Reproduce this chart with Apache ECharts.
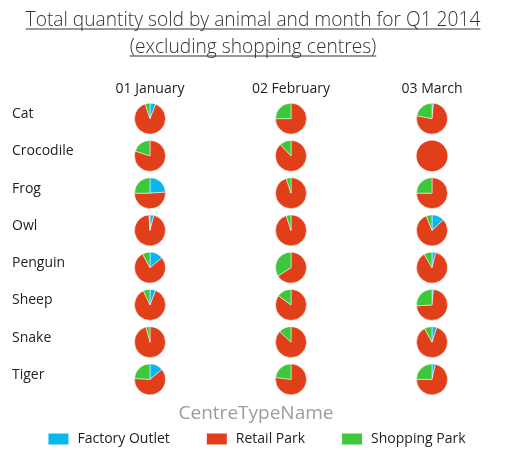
<!DOCTYPE html>
<html><head><meta charset="utf-8">
<script src="https://cdn.jsdelivr.net/npm/echarts@6/dist/echarts.min.js"></script>
<style>html,body{margin:0;padding:0;background:#fff}#c{width:512px;height:462px}</style>
</head><body><div id="c"></div>
<script>
const months = ['01 January', '02 February', '03 March'];
const animals = ['Cat', 'Crocodile', 'Frog', 'Owl', 'Penguin', 'Sheep', 'Snake', 'Tiger'];
const centreTypes = ['Factory Outlet', 'Retail Park', 'Shopping Park'];
const titleLines = ['Total quantity sold by animal and month for Q1 2014', '(excluding shopping centres)'];
const legendTitle = 'CentreTypeName';

// values per month (rows) and animal (columns)
const factoryOutlet = [
  [6, 0, 24, 4, 14, 6, 0, 14],
  [0, 0, 0, 0, 0, 0, 0, 0],
  [1.5, 0, 0, 13, 4, 1.5, 5, 3.5]
];
const retailPark = [
  [89, 80, 51, 95, 78, 87, 96, 62],
  [75, 88, 95, 95, 66, 85, 87, 77],
  [76.5, 100, 75, 81, 87.5, 72.5, 87, 71.5]
];
const shoppingPark = [
  [5, 20, 25, 1, 8, 7, 4, 24],
  [25, 12, 5, 5, 34, 15, 13, 23],
  [22, 0, 25, 6, 8.5, 26, 8, 25]
];

const values = [factoryOutlet, retailPark, shoppingPark];
const colors = ['#08B8EC', '#E03F1A', '#3DC73B'];
const FONT = '"Open Sans", "Noto Sans", sans-serif';
const TEXT = '#222';

const chart = echarts.init(document.getElementById('c'), null, {renderer: 'canvas'});

// measure title widths for underlines
const ctx = document.createElement('canvas').getContext('2d');
const titleSize = 19.2;
const titleWeight = 300;
ctx.font = titleWeight + ' ' + titleSize + 'px "Open Sans"';
const tCx = 253;
const tY = [20.5, 47.5];
const underline = titleLines.map((t, i) => {
  const w = ctx.measureText(t).width;
  return {type: 'line', shape: {x1: tCx - w / 2, y1: tY[i] + 8.5, x2: tCx + w / 2, y2: tY[i] + 8.5},
    style: {stroke: '#333', lineWidth: 1}, silent: true};
});
const titleTexts = titleLines.map((t, i) => ({
  type: 'text', x: tCx, y: tY[i], silent: true,
  style: {text: t, font: titleWeight + ' ' + titleSize + 'px ' + FONT, fill: '#333', align: 'center', verticalAlign: 'middle'}
}));

chart.setOption({
  animation: false,
  title: {text: legendTitle, left: 'center', top: 402, padding: 0,
    textStyle: {fontFamily: FONT, fontSize: 19, fontWeight: 'normal', color: '#9c9c9c', lineHeight: 24}},
  graphic: titleTexts.concat(underline),
  grid: {left: 79.5, right: 9.5, top: 100, bottom: 64},
  xAxis: {type: 'category', position: 'top', data: months,
    axisLine: {show: false}, axisTick: {show: false}, splitLine: {show: false},
    axisLabel: {margin: 4, fontSize: 14, color: TEXT, fontFamily: FONT}},
  yAxis: {type: 'category', inverse: true, data: animals,
    axisLine: {show: false}, axisTick: {show: false}, splitLine: {show: false},
    axisLabel: {margin: 67.5, align: 'left', fontSize: 14, color: TEXT, fontFamily: FONT,
      formatter: '{a|{value}}', rich: {a: {fontSize: 14, color: TEXT, fontFamily: FONT, padding: [0, 0, 9, 0]}}}},
  legend: {data: centreTypes, left: 'center', top: 431.5, padding: 0, icon: 'rect', itemWidth: 22, itemHeight: 13,
    itemGap: 35, textStyle: {fontSize: 14, color: TEXT, fontFamily: FONT, padding: [0, 0, 0, 3]}, selectedMode: false}
});

const series = [];
months.forEach((m, mi) => {
  animals.forEach((a, ai) => {
    const c = chart.convertToPixel({gridIndex: 0}, [mi, ai]);
    series.push({
      type: 'pie', name: m + ' ' + a, center: c, radius: 15.5, startAngle: 90, clockwise: true,
      label: {show: false}, labelLine: {show: false}, emphasis: {disabled: true},
      data: centreTypes.map((t, ti) => {
        const v = values[ti][mi][ai];
        return {name: t, value: v, itemStyle: {color: colors[ti], borderColor: '#fff', borderWidth: v > 0 && v < 100 ? 0.5 : 0}};
      })
    });
  });
});
chart.setOption({series: series});
</script>
</body></html>
